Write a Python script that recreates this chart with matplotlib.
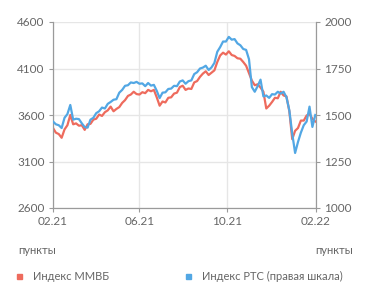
#=========================================================================
# moex-rts-index
#=========================================================================

import matplotlib
matplotlib.use( 'Agg' )
import matplotlib.pyplot as plt
import pandas as pd

#-------------------------------------------------------------------------
# Configure matplotlib
#-------------------------------------------------------------------------

plt.rcParams['font.family'] = ['Lato', 'DejaVu Sans']
plt.rcParams['font.size']   = 8

#-------------------------------------------------------------------------
# Raw data (every 4 days from 01.02.2021)
#-------------------------------------------------------------------------

start_date = '2021-02-01'
step       = '4D'

moex = [
  3460, 3410, 3395, 3355, 3445, 3490, 3600, 3500, 3510, 3485,
  3490, 3440, 3500, 3505, 3550, 3560, 3605, 3590, 3630, 3650,
  3690, 3640, 3665, 3685, 3730, 3760, 3805, 3820, 3850, 3825,
  3820, 3845, 3835, 3870, 3855, 3870, 3790, 3700, 3745, 3735,
  3785, 3790, 3830, 3840, 3900, 3915, 3870, 3885, 3880, 3950,
  3965, 4010, 4045, 4070, 4030, 4055, 4080, 4170, 4240, 4270,
  4250, 4285, 4245, 4235, 4210, 4205, 4170, 4130, 4050, 3970,
  3920, 3930, 3895, 3850, 3670, 3700, 3740, 3785, 3780, 3850,
  3810, 3800, 3640, 3340, 3430, 3460, 3540, 3540, 3595, 3610,
  3560, 3530,
]

rts = [
  1465, 1450, 1445, 1430, 1485, 1505, 1554, 1475, 1480, 1478,
  1455, 1435, 1432, 1475, 1485, 1510, 1520, 1540, 1535, 1560,
  1570, 1582, 1585, 1620, 1635, 1657, 1660, 1675, 1672, 1678,
  1668, 1670, 1655, 1672, 1658, 1662, 1630, 1591, 1620, 1622,
  1640, 1642, 1657, 1655, 1680, 1686, 1668, 1682, 1686, 1720,
  1730, 1750, 1755, 1765, 1742, 1756, 1780, 1840, 1865, 1895,
  1895, 1920, 1905, 1908, 1885, 1875, 1855, 1850, 1800, 1650,
  1625, 1655, 1690, 1600, 1605, 1592, 1612, 1610, 1625, 1615,
  1625, 1595, 1525, 1400, 1296, 1355, 1405, 1445, 1465, 1545,
  1436, 1500,
]

dates = pd.date_range( start_date, periods=len( moex ), freq=step )

tick_dates  = pd.to_datetime( [ '2021-02-01', '2021-06-01',
                                '2021-10-01', '2022-02-01' ] )
tick_labels = [ '02.21', '06.21', '10.21', '02.22' ]

left_ticks  = [ 2600, 3100, 3600, 4100, 4600 ]
right_ticks = [ 1000, 1250, 1500, 1750, 2000 ]

labels = [ 'Индекс ММВБ', 'Индекс РТС (правая шкала)' ]
unit   = 'пункты'

#-------------------------------------------------------------------------
# Plot parameters
#-------------------------------------------------------------------------

red   = '#ee6b5d'
blue  = '#52a7e4'
grey  = '#666666'
spine = '#9a9a9a'
grid  = '#e6e6e6'

#-------------------------------------------------------------------------
# Create plot
#-------------------------------------------------------------------------

fig = plt.figure( figsize=( 3.71, 3.02 ), dpi=100 )
ax  = fig.add_axes( [ 53/371, 1 - 208/302, 263/371, 186/302 ] )
ax2 = ax.twinx()

ax.plot( dates, moex, color=red, lw=1.6, zorder=3 )
ax2.plot( dates, rts, color=blue, lw=1.6, zorder=3 )

ax.set_xlim( tick_dates[0], tick_dates[-1] )
ax.set_ylim( left_ticks[0], left_ticks[-1] )
ax2.set_ylim( right_ticks[0], right_ticks[-1] )

ax.set_xticks( tick_dates )
ax.set_xticklabels( tick_labels )
ax.set_yticks( left_ticks )
ax2.set_yticks( right_ticks )

ax.grid( True, color=grid, lw=1.0 )
ax.set_axisbelow( True )

for a in ( ax, ax2 ):
  a.spines['top'].set_visible( False )
  for s in ( 'left', 'right', 'bottom' ):
    a.spines[s].set_color( spine )
    a.spines[s].set_linewidth( 0.8 )
  a.tick_params( colors=spine, labelcolor=grey, labelsize=8.5,
                 length=3, width=0.8, pad=3 )

# Units and legend

fig.text( 18/371, 1 - 251/302, unit, color=grey, fontsize=8, va='center' )
fig.text( 353/371, 1 - 251/302, unit, color=grey, fontsize=8,
          va='center', ha='right' )

for x, c, lab in zip( [ 17, 186 ], [ red, blue ], labels ):
  fig.patches.append( plt.Rectangle( ( x/371, 1 - 279/302 ), 5/371, 5/302,
                      color=c, transform=fig.transFigure, figure=fig ) )
  fig.text( ( x + 16 )/371, 1 - 276.5/302, lab, color=grey, fontsize=8,
            va='center' )

plt.savefig( 'out.png', dpi=100 )
